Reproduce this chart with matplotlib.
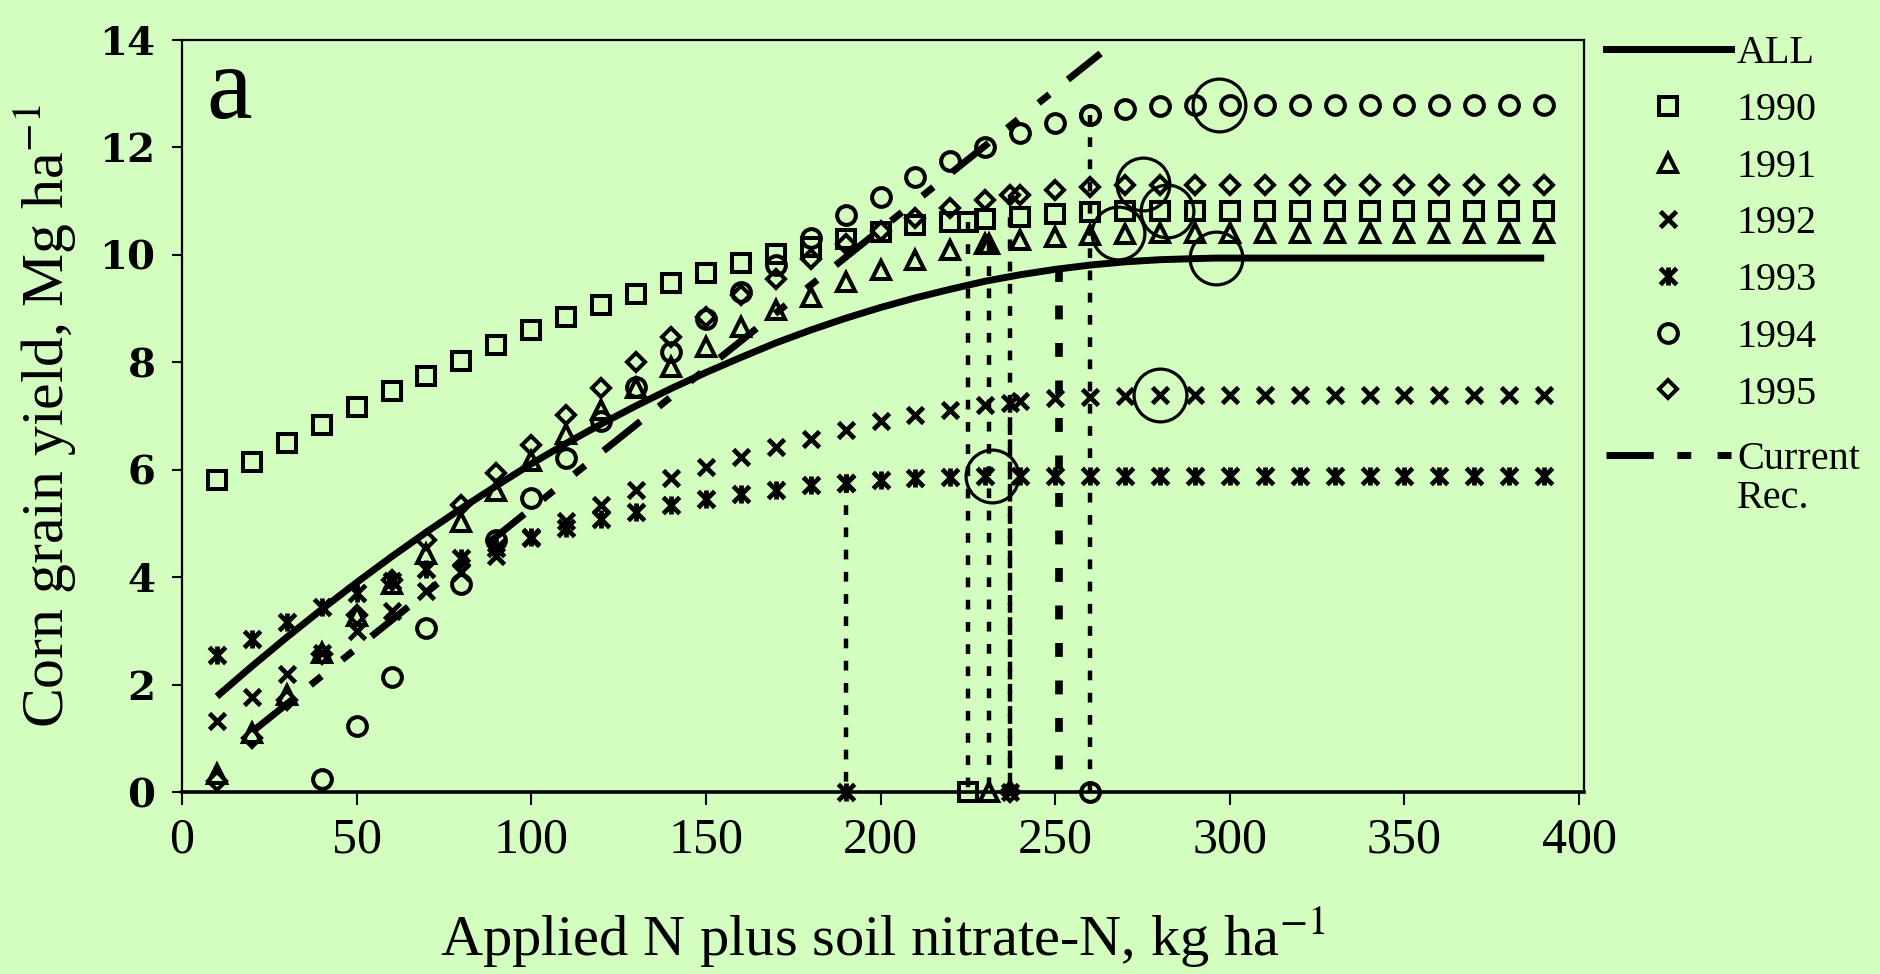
import matplotlib

matplotlib.use("Agg")
import matplotlib.pyplot as plt
import numpy as np
from matplotlib.lines import Line2D
from matplotlib.path import Path

# ---- data ---------------------------------------------------------------
N_RATE = [10, 20, 30, 40, 50, 60, 70, 80, 90, 100, 110, 120, 130, 140, 150,
          160, 170, 180, 190, 200, 210, 220, 230, 240, 250, 260, 270, 280,
          290, 300, 310, 320, 330, 340, 350, 360, 370, 380, 390]

YIELD_1990 = [5.81, 6.15, 6.50, 6.84, 7.16, 7.46, 7.74, 8.03, 8.32, 8.60,
              8.85, 9.06, 9.27, 9.47, 9.66, 9.84, 10.02, 10.15, 10.30, 10.43,
              10.55, 10.62, 10.66, 10.71, 10.76, 10.79, 10.81, 10.82, 10.82,
              10.82, 10.82, 10.82, 10.82, 10.82, 10.82, 10.82, 10.82, 10.82,
              10.82]
YIELD_1991 = [0.33, 1.09, 1.80, 2.58, 3.27, 3.87, 4.44, 5.03, 5.60, 6.16,
              6.67, 7.12, 7.52, 7.92, 8.29, 8.66, 8.97, 9.22, 9.50, 9.72,
              9.90, 10.09, 10.20, 10.27, 10.33, 10.37, 10.39, 10.40, 10.40,
              10.40, 10.40, 10.40, 10.40, 10.40, 10.40, 10.40, 10.40, 10.40,
              10.40]
YIELD_1992 = [1.32, 1.76, 2.20, 2.58, 3.00, 3.37, 3.75, 4.10, 4.40, 4.72,
              5.04, 5.34, 5.62, 5.84, 6.05, 6.24, 6.42, 6.58, 6.74, 6.90,
              7.01, 7.11, 7.20, 7.27, 7.33, 7.36, 7.38, 7.39, 7.39, 7.39,
              7.39, 7.39, 7.39, 7.39, 7.39, 7.39, 7.39, 7.39, 7.39]
YIELD_1993 = [2.55, 2.85, 3.17, 3.44, 3.70, 3.93, 4.16, 4.35, 4.55, 4.74,
              4.92, 5.08, 5.22, 5.34, 5.45, 5.54, 5.63, 5.71, 5.76, 5.81,
              5.85, 5.87, 5.88, 5.88, 5.88, 5.88, 5.88, 5.88, 5.88, 5.88,
              5.88, 5.88, 5.88, 5.88, 5.88, 5.88, 5.88, 5.88, 5.88]
YIELD_1994 = [np.nan, np.nan, np.nan, 0.25, 1.22, 2.15, 3.05, 3.88, 4.70,
              5.47, 6.22, 6.90, 7.54, 8.19, 8.80, 9.31, 9.81, 10.32, 10.74,
              11.08, 11.45, 11.74, 12.01, 12.26, 12.45, 12.60, 12.72, 12.77,
              12.79, 12.79, 12.79, 12.79, 12.79, 12.79, 12.79, 12.79, 12.79,
              12.79, 12.79]
YIELD_1995 = [0.20, 1.00, 1.72, 2.56, 3.30, 3.95, 4.69, 5.34, 5.93, 6.46,
              7.02, 7.52, 8.01, 8.48, 8.85, 9.25, 9.55, 9.92, 10.20, 10.45,
              10.68, 10.87, 11.02, 11.12, 11.20, 11.27, 11.30, 11.30, 11.30,
              11.30, 11.30, 11.30, 11.30, 11.30, 11.30, 11.30, 11.30, 11.30,
              11.30]

# pooled quadratic-plateau fit ("ALL")
ALL_N = [10, 20, 30, 40, 50, 60, 70, 80, 90, 100, 110, 120, 130, 140, 150,
         160, 170, 180, 190, 200, 210, 220, 230, 240, 250, 260, 270, 280,
         290, 296, 390]
ALL_YIELD = [1.78, 2.34, 2.88, 3.40, 3.90, 4.38, 4.84, 5.28, 5.70, 6.11,
             6.49, 6.85, 7.19, 7.51, 7.81, 8.09, 8.36, 8.60, 8.82, 9.02,
             9.20, 9.36, 9.51, 9.63, 9.73, 9.81, 9.87, 9.91, 9.93, 9.94, 9.94]

# current recommendation line (end points)
REC_N = [21, 263]
REC_YIELD = [1.17, 13.75]
REC_OPT_N = [251, 251]
REC_OPT_YIELD = [9.76, 0.0]

# economic optimum per year (dotted drop lines)
OPT_YEAR = ["1993", "1990", "1991", "1995", "1992", "1994"]
OPT_N = [190, 225, 231, 237, 237, 260]
OPT_YIELD = [5.76, 10.62, 10.21, 11.12, 7.25, 12.60]

# plateau join points (large open circles)
JOIN_N = [297, 275, 282, 268, 296, 280, 232]
JOIN_YIELD = [12.79, 11.32, 10.82, 10.40, 9.94, 7.39, 5.88]

YEARS = ["1990", "1991", "1992", "1993", "1994", "1995"]
YEAR_YIELDS = [YIELD_1990, YIELD_1991, YIELD_1992, YIELD_1993, YIELD_1994,
               YIELD_1995]

# ---- styling -------------------------------------------------------------
BG = "#D4FEBF"
SERIF = "Liberation Serif"
ASTERISK = Path([(-1, -1), (1, 1), (-1, 1), (1, -1), (0, -1.1), (0, 1.1)],
                [Path.MOVETO, Path.LINETO] * 3)
MARKERS = {
    "1990": dict(marker="s", ms=13.0, mew=2.9),
    "1991": dict(marker="^", ms=13.5, mew=2.9),
    "1992": dict(marker="x", ms=12.0, mew=3.4),
    "1993": dict(marker=ASTERISK, ms=13.0, mew=3.4),
    "1994": dict(marker="o", ms=13.5, mew=2.9),
    "1995": dict(marker="D", ms=9.5, mew=2.9),
}
REC_DASH = (34, 17, 10, 19, 10, 17)   # points, long - short - short
DROP_DASH = (7, 9)
REC_DROP_DASH = (10, 17)
LEGEND_KW = dict(loc="upper left", frameon=False,
                 prop=dict(family=SERIF, size=29), handlelength=3.1,
                 handletextpad=0.15, labelspacing=0.485, borderpad=0,
                 borderaxespad=0)

plt.rcParams["lines.scale_dashes"] = False
plt.rcParams["mathtext.fontset"] = "stix"


def marker_kw(year):
    kw = dict(MARKERS[year])
    kw.update(ls="none", mfc="none", mec="black", color="black")
    return kw


def main():
    fig = plt.figure(figsize=(18.81, 9.74), dpi=100, facecolor=BG)
    ax = fig.add_axes([182 / 1881, 1 - 792 / 974, (1584 - 182) / 1881,
                       (792 - 40) / 974])
    ax.set_facecolor(BG)
    ax.set_xlim(0, 401.4)
    ax.set_ylim(0, 14)

    # fitted curve and current recommendation
    ax.plot(ALL_N, ALL_YIELD, color="black", lw=5.0, zorder=2,
            solid_capstyle="butt")
    ax.plot(REC_N, REC_YIELD, color="black", lw=5.0, dashes=REC_DASH,
            zorder=2)
    ax.plot(REC_OPT_N, REC_OPT_YIELD, color="black", lw=5.5,
            dashes=REC_DROP_DASH, zorder=2, clip_on=False)

    # dotted drop lines from each year's optimum to the x axis
    for year, n, y in zip(OPT_YEAR, OPT_N, OPT_YIELD):
        ax.plot([n, n], [y, 0], color="black", lw=3.2, dashes=DROP_DASH,
                zorder=2)
        ax.plot([n, n], [y, 0], clip_on=False, zorder=4, **marker_kw(year))

    for year, ys in zip(YEARS, YEAR_YIELDS):
        ax.plot(N_RATE, ys, zorder=3, clip_on=False, **marker_kw(year))

    ax.plot(JOIN_N, JOIN_YIELD, ls="none", marker="o", ms=38, mfc="none",
            mec="black", mew=2.3, zorder=4)

    ax.text(7, 12.55, "a", fontsize=74, family=SERIF, va="baseline")

    # axes cosmetics
    for spine in ax.spines.values():
        spine.set_linewidth(1.6)
    ax.spines["bottom"].set_linewidth(2.6)
    ax.set_xticks(range(0, 401, 50))
    ax.set_yticks(range(0, 15, 2))
    ax.tick_params(axis="x", direction="out", length=9, width=1.5, pad=9,
                   labelsize=36)
    ax.tick_params(axis="y", direction="out", length=7, width=1.5, pad=12,
                   labelsize=29)
    for lab in ax.get_xticklabels():
        lab.set_family(SERIF)
    for lab in ax.get_yticklabels():
        lab.set_family("DejaVu Serif")
        lab.set_weight("bold")

    ax.set_xlabel(r"Applied N plus soil nitrate-N, kg ha$^{-1}$",
                  family=SERIF, fontsize=42, labelpad=30)
    ax.set_ylabel(r"Corn grain yield, Mg ha$^{-1}$", family=SERIF,
                  fontsize=43)
    ax.yaxis.set_label_coords(-0.074, 0.5)

    # legend: years block, then the recommendation entry a bit lower
    handles = [Line2D([], [], color="black", lw=5.0)]
    handles += [Line2D([], [], **marker_kw(y)) for y in YEARS]
    fig.legend(handles, ["ALL"] + YEARS,
               bbox_to_anchor=(1606 / 1881, 1 - 35 / 974), **LEGEND_KW)
    rec_leg = fig.legend(
        [Line2D([], [], color="black", lw=5.0, dashes=REC_DASH)],
        ["Current"], bbox_to_anchor=(1606 / 1881, 1 - 441 / 974),
        **LEGEND_KW)
    fig.canvas.draw()
    ax.annotate("Rec.", xy=(0, 0), xycoords=rec_leg.get_texts()[0],
                xytext=(0, -1), textcoords="offset points", ha="left",
                va="top", family=SERIF, fontsize=29, annotation_clip=False)

    fig.savefig("out.png", dpi=100, facecolor=BG)
    plt.close(fig)


if __name__ == "__main__":
    main()
